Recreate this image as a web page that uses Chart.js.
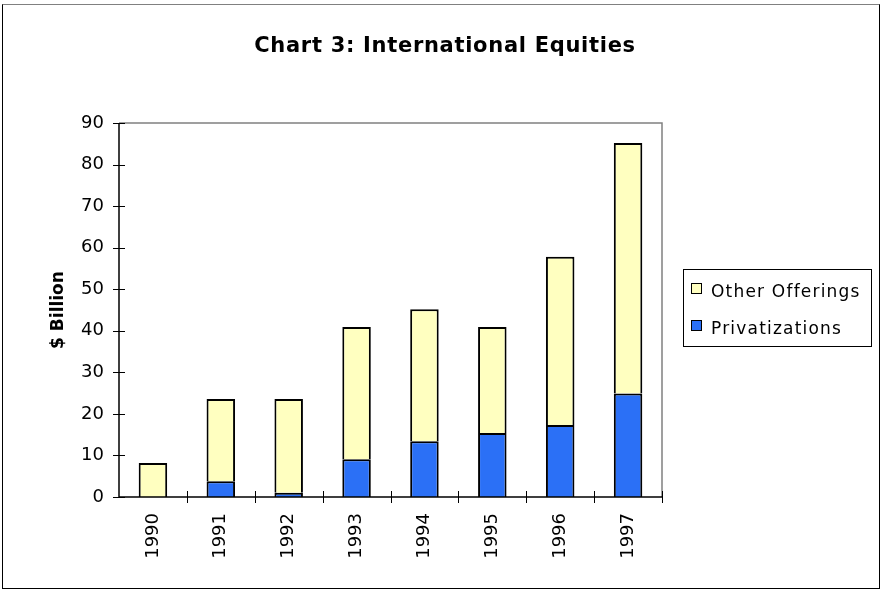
<!DOCTYPE html>
<html>
<head>
<meta charset="utf-8">
<script src="https://cdn.jsdelivr.net/npm/chart.js@4"></script>
<style>
  body { margin: 0; background: #fff; font-family: "DejaVu Sans", sans-serif; }
  #wrap { position: relative; width: 889px; height: 597px; }
  #frame { position: absolute; left: 2px; top: 4px; width: 878px; height: 585px; border: 1px solid #000; border-top-color: #808080; box-sizing: border-box; pointer-events: none; }
  #titulo { position: absolute; left: 0; width: 890px; top: 33px; text-align: center; font-weight: bold; font-size: 21px; letter-spacing: 0.7px; color: #000; line-height: normal; }
  #leyenda { position: absolute; left: 683px; top: 269px; width: 189px; height: 78px; border: 1px solid #000; box-sizing: border-box; font-size: 17px; letter-spacing: 1.2px; color: #000; }
  .item { position: absolute; left: 7px; height: 22px; line-height: 22px; white-space: nowrap; }
  .caja { display: inline-block; width: 9px; height: 9px; border: 1px solid #000; margin-right: 9px; vertical-align: 3px; }
</style>
</head>
<body>
<div id="wrap">
  <canvas id="grafica" width="889" height="597"></canvas>
  <div id="frame"></div>
  <div id="titulo">Chart 3: International Equities</div>
  <div id="leyenda"></div>
</div>
<script>
const anios = ['1990', '1991', '1992', '1993', '1994', '1995', '1996', '1997'];
const privatizaciones = [0, 3.8, 1.0, 9.1, 13.4, 15.4, 17.3, 24.9];
const otrasOfertas = [8.2, 19.8, 22.6, 31.8, 31.8, 25.5, 40.5, 60.3];
const ticksY = [0, 10, 20, 30, 40, 50, 60, 70, 80, 90];

const colorAzul = '#2B70F6';
const colorAmarillo = '#FFFFC0';

// marcas que cruzan los ejes y borde gris del area
const marcasCruzadas = {
    id: 'marcasCruzadas',
    afterDraw(chart) {
        const ctx = chart.ctx;
        const area = chart.chartArea;
        const x = chart.scales.x;
        const y = chart.scales.y;
        ctx.save();
        ctx.strokeStyle = '#808080';
        ctx.lineWidth = 1.5;
        ctx.beginPath();
        ctx.moveTo(area.left, area.top);
        ctx.lineTo(area.right, area.top);
        ctx.lineTo(area.right, area.bottom);
        ctx.stroke();
        ctx.strokeStyle = '#000';
        ctx.lineWidth = 1;
        ctx.beginPath();
        ticksY.forEach(v => {
            const py = Math.round(y.getPixelForValue(v)) + 0.5;
            ctx.moveTo(area.left - 6, py);
            ctx.lineTo(area.left + 6, py);
        });
        for (let i = 1; i <= anios.length; i++) {
            const px = Math.round(x.getPixelForValue(i - 0.5)) + 0.5;
            ctx.moveTo(px, area.bottom - 6);
            ctx.lineTo(px, area.bottom + 6);
        }
        ctx.stroke();
        ctx.lineWidth = 1.5;
        ctx.beginPath();
        ctx.moveTo(area.left, area.top);
        ctx.lineTo(area.left, area.bottom);
        ctx.lineTo(area.right, area.bottom);
        ctx.stroke();
        ctx.restore();
    }
};

const chart = new Chart(document.getElementById('grafica').getContext('2d'), {
    type: 'bar',
    data: {
        labels: anios,
        datasets: [
            { label: 'Privatizations', data: privatizaciones, backgroundColor: colorAzul, borderColor: '#000', borderWidth: 2, borderSkipped: 'bottom' },
            { label: 'Other Offerings', data: otrasOfertas, backgroundColor: colorAmarillo, borderColor: '#000', borderWidth: 2, borderSkipped: 'bottom' }
        ]
    },
    options: {
        responsive: false,
        animation: false,
        devicePixelRatio: 1,
        layout: { padding: { left: 0, top: 123, right: 227, bottom: 0 } },
        datasets: { bar: { barPercentage: 0.42, categoryPercentage: 1 } },
        plugins: { legend: { display: false }, title: { display: false }, tooltip: { enabled: false } },
        scales: {
            x: {
                stacked: true,
                grid: { display: false },
                border: { display: false },
                ticks: { color: '#000', font: { family: 'DejaVu Sans', size: 18 }, minRotation: 90, maxRotation: 90, padding: 8 },
                afterFit(scale) { scale.height = 100; }
            },
            y: {
                stacked: true,
                min: 0,
                max: 90,
                afterBuildTicks(scale) { scale.ticks = ticksY.map(v => ({ value: v })); },
                grid: { display: false },
                border: { display: false },
                ticks: { color: '#000', font: { family: 'DejaVu Sans', size: 18 }, padding: 7 },
                title: { display: true, text: '$ Billion', color: '#000', font: { family: 'DejaVu Sans', size: 17, weight: 'bold' }, padding: { top: 48, bottom: 0 } },
                afterFit(scale) { scale.width = 119; }
            }
        }
    },
    plugins: [marcasCruzadas]
});

// leyenda en html, en orden inverso como en el original
const leyenda = document.getElementById('leyenda');
chart.data.datasets.slice().reverse().forEach((ds, i) => {
    const item = document.createElement('div');
    item.className = 'item';
    item.style.top = (i === 0 ? 10 : 47) + 'px';
    item.innerHTML = `<span class="caja" style="background:${ds.backgroundColor}"></span>${ds.label}`;
    leyenda.appendChild(item);
});
</script>
</body>
</html>
